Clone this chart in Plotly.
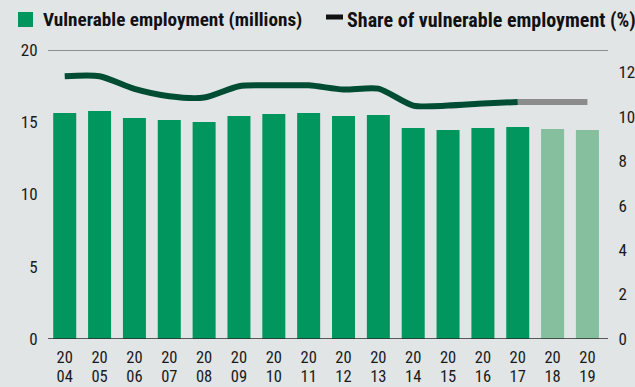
import plotly.graph_objects as go

years = list(range(2004, 2020))
vulnerable_millions = [15.64, 15.78, 15.29, 15.16, 15.02, 15.43, 15.57, 15.64,
                       15.43, 15.50, 14.60, 14.46, 14.60, 14.67, 14.53, 14.46]
share_pct = [11.82, 11.82, 11.25, 10.92, 10.86, 11.37, 11.41, 11.41,
             11.22, 11.26, 10.50, 10.50, 10.59, 10.66, 10.66, 10.66]
last_actual = 2017
tick_century = [str(y)[:2] for y in years]
tick_decade = [str(y)[2:] for y in years]

BG = "#e1e5e6"
GREEN = "#00965e"
LIGHT_GREEN = "#86bf9e"
DARK_LINE = "#004d33"
GREY_LINE = "#8c8c8c"
FONT = "Roboto Condensed, DejaVu Sans Condensed, sans-serif"

bar_colors = [GREEN if y <= last_actual else LIGHT_GREEN for y in years]

fig = go.Figure()
fig.add_trace(go.Bar(x=years, y=vulnerable_millions, marker_color=bar_colors,
                     marker_line_width=0, yaxis="y", showlegend=False))

proj_x = [y for y in years if y >= last_actual]
proj_y = [v for y, v in zip(years, share_pct) if y >= last_actual]
act_x = [y for y in years if y <= last_actual]
act_y = [v for y, v in zip(years, share_pct) if y <= last_actual]

fig.add_trace(go.Scatter(x=proj_x, y=proj_y, mode="lines", yaxis="y2",
                         line=dict(color=GREY_LINE, width=6), showlegend=False))
fig.add_trace(go.Scatter(x=act_x, y=act_y, mode="lines", yaxis="y2",
                         line=dict(color=DARK_LINE, width=6, shape="spline", smoothing=0.7),
                         showlegend=False))
# carrier trace for the second row of year labels
fig.add_trace(go.Scatter(x=years, y=vulnerable_millions, xaxis="x2", yaxis="y",
                         mode="none", hoverinfo="skip", showlegend=False))

x0, x1 = years[0] - 0.48, years[-1] + 0.59

W, H, L, R, T, B = 635, 387, 48, 27, 50, 48
PW, PH = W - L - R, H - T - B


def px(x):
    return (x - L) / PW


def py(y):
    return (H - B - y) / PH


fig.update_layout(
    width=W, height=H,
    paper_bgcolor=BG, plot_bgcolor=BG,
    margin=dict(l=L, r=R, t=T, b=B, autoexpand=False),
    bargap=0.34,
    font=dict(family=FONT, size=17, color="#1a1a1a"),
    xaxis=dict(range=[x0, x1], tickvals=years, ticktext=tick_century,
               showgrid=False, zeroline=False, showline=False, ticks="",
               ticklabelstandoff=6, automargin=False, tickfont=dict(size=16.5)),
    xaxis2=dict(range=[x0, x1], tickvals=years, ticktext=tick_decade,
                overlaying="x", side="bottom", anchor="y",
                showgrid=False, zeroline=False, showline=False, ticks="",
                ticklabelstandoff=25, automargin=False, tickfont=dict(size=16.5)),
    yaxis=dict(range=[0, 20], tickvals=[0, 5, 10, 15, 20], showgrid=False,
               zeroline=False, showline=False, ticks="outside", ticklen=6,
               tickcolor="rgba(0,0,0,0)", automargin=False),
    yaxis2=dict(range=[0, 13], tickvals=[0, 2, 4, 6, 8, 10, 12], overlaying="y",
                side="right", showgrid=False, zeroline=False, showline=False,
                ticks="outside", ticklen=6, tickcolor="rgba(0,0,0,0)", automargin=False),
    shapes=[
        dict(type="line", xref="x", yref="y", x0=x0, x1=x1, y0=20, y1=20,
             line=dict(color="#707070", width=1.5), layer="below"),
        dict(type="line", xref="x", yref="y", x0=x0, x1=x1, y0=0, y1=0,
             line=dict(color="#2a2a2a", width=1.5), layer="above"),
        dict(type="rect", xref="paper", yref="paper",
             x0=px(18), x1=px(33), y0=py(27), y1=py(12),
             fillcolor=GREEN, line_width=0),
        dict(type="rect", xref="paper", yref="paper",
             x0=px(326), x1=px(343), y0=py(19.5), y1=py(14.5),
             fillcolor="#111111", line_width=0),
    ],
    annotations=[
        dict(text="<b>Vulnerable employment (millions)</b>", xref="paper", yref="paper",
             x=px(41), y=py(19.5), xanchor="left", yanchor="middle",
             showarrow=False, font=dict(size=19.2, color="#111111")),
        dict(text="<b>Share of vulnerable employment (%)</b>", xref="paper", yref="paper",
             x=px(345), y=py(19.5), xanchor="left", yanchor="middle",
             showarrow=False, font=dict(size=20, color="#111111")),
    ],
)

fig.write_html("out.html", config={"displayModeBar": False},
               post_script="document.body.style.margin='0';document.body.style.overflow='hidden';")
